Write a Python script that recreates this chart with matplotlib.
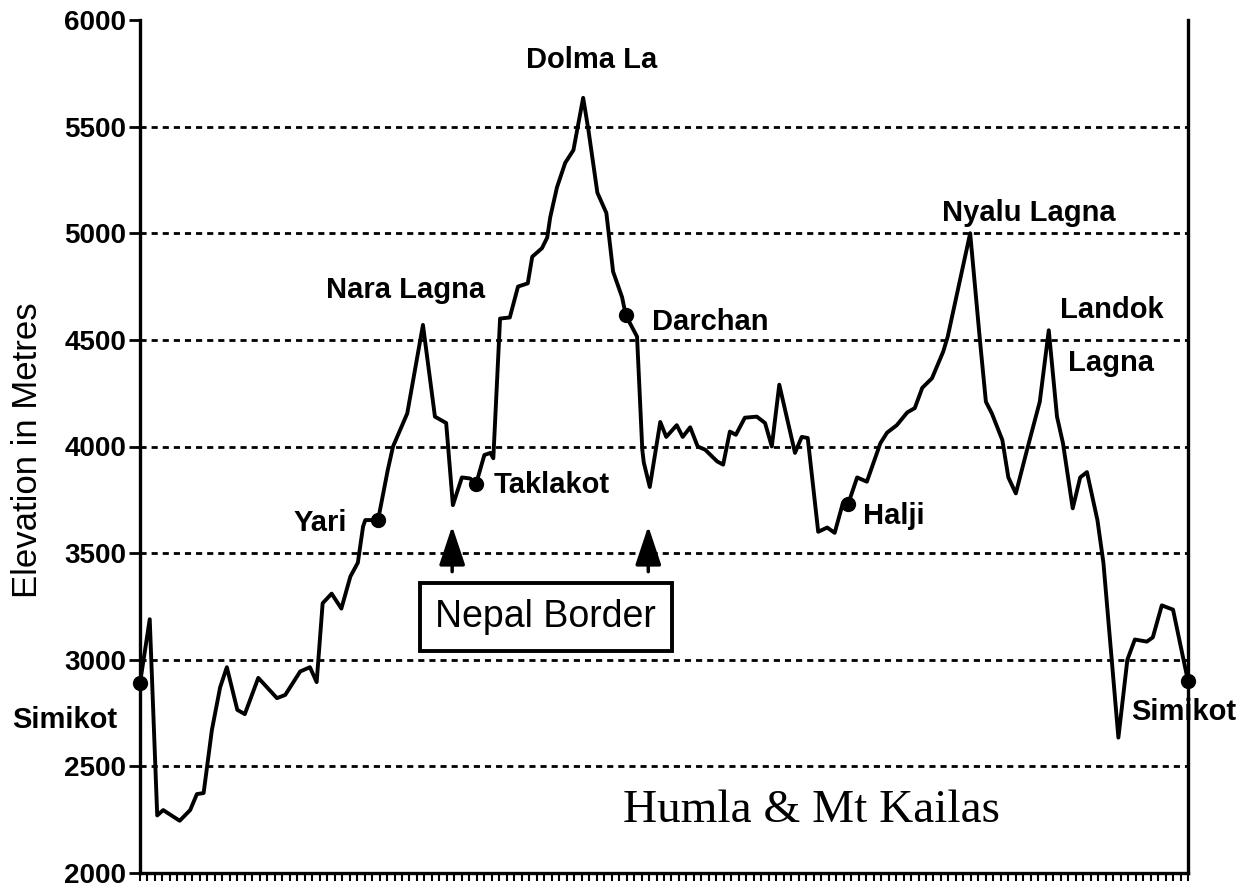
import matplotlib
matplotlib.use('Agg')
import matplotlib.pyplot as plt
import numpy as np

# distance along the trek (arbitrary units) and elevation in metres
dist = [0.0, 1.3, 2.3, 3.1, 5.3, 6.7, 7.6, 8.5, 9.6, 10.7, 11.6, 13.0, 14.0, 15.8,
        18.3, 19.4, 21.4, 22.7, 23.6, 24.4, 25.6, 26.9, 28.1, 29.1, 29.8, 30.1,
        31.8, 33.1, 33.8, 35.7, 37.8, 39.4, 40.9, 41.8, 43.0, 44.1, 44.9, 46.0,
        46.8, 47.2, 48.1, 49.4, 50.5, 51.8, 52.4, 53.7, 54.4, 54.8, 55.7, 56.8,
        57.9, 59.2, 59.9, 61.1, 62.3, 63.2, 64.4, 64.9, 66.4, 67.1, 67.3, 68.1,
        69.5, 70.3, 71.7, 72.5, 73.5, 74.5, 75.5, 77.1, 77.9, 78.8, 79.6, 80.8,
        82.4, 83.5, 84.4, 85.4, 87.5, 88.4, 89.2, 90.6, 91.8, 92.8, 93.9, 94.6,
        95.8, 97.1, 98.9, 99.8, 101.1, 102.5, 103.5, 104.5, 105.8, 107.3, 107.9,
        110.9, 112.2, 113.0, 113.8, 115.2, 116.0, 117.0, 118.5, 120.2, 121.4,
        122.5, 123.3, 124.6, 125.6, 126.5, 127.9, 128.7, 130.7, 131.9, 132.9,
        134.5, 135.3, 136.5, 138.0, 140.0]
elev = [2890, 3190, 2270, 2295, 2245, 2295, 2370, 2375, 2670, 2870, 2965, 2765, 2745, 2915,
        2820, 2835, 2945, 2965, 2895, 3265, 3310, 3240, 3390, 3455, 3625, 3655,
        3655, 3890, 4000, 4155, 4570, 4140, 4110, 3725, 3855, 3850, 3825, 3960,
        3970, 3945, 4600, 4605, 4750, 4765, 4890, 4930, 4980, 5075, 5215, 5330,
        5390, 5635, 5485, 5190, 5095, 4820, 4700, 4615, 4515, 3985, 3925, 3810,
        4115, 4045, 4100, 4045, 4090, 4000, 3985, 3930, 3915, 4070, 4055, 4135,
        4140, 4110, 4000, 4290, 3970, 4045, 4040, 3600, 3620, 3595, 3735, 3730,
        3855, 3835, 4015, 4065, 4100, 4160, 4180, 4275, 4320, 4445, 4515,
        5000, 4500, 4210, 4155, 4030, 3855, 3780, 3985, 4210, 4545,
        4140, 4015, 3710, 3855, 3880, 3655, 3455, 2635, 3000, 3095,
        3085, 3105, 3255, 3235, 2900]

# marked places (dots)
stops = ['Simikot', 'Yari', 'Taklakot', 'Darchan', 'Halji', 'Simikot']
stop_dist = [0.0, 31.8, 44.9, 64.9, 94.6, 140.0]
stop_elev = [2890, 3655, 3825, 4615, 3730, 2900]

# text labels: (text, x, y, horizontal alignment)
labels = [('Simikot', -10.0, 2718, 'center'),
          ('Yari', 27.7, 3641, 'right'),
          ('Nara Lagna', 35.5, 4734, 'center'),
          ('Taklakot', 47.3, 3820, 'left'),
          ('Dolma La', 60.3, 5813, 'center'),
          ('Darchan', 68.4, 4584, 'left'),
          ('Halji', 96.6, 3674, 'left'),
          ('Nyalu Lagna', 118.8, 5095, 'center'),
          ('Landok', 122.9, 4640, 'left'),
          ('Lagna', 124.0, 4392, 'left'),
          ('Simikot', 132.4, 2755, 'left')]

border_x = [41.7, 67.9]

fig = plt.figure(figsize=(12.54, 8.91), dpi=100)
ax = fig.add_axes([140 / 1254, 1 - 873 / 891, 1048 / 1254, 853 / 891])

for y in range(2500, 6000, 500):
    ax.axhline(y, color='black', lw=2, ls=(0, (2.2, 1.8)), zorder=1)

ax.plot(dist, elev, color='black', lw=2.8, zorder=3)
ax.plot(stop_dist, stop_elev, 'o', color='black', ms=10, zorder=4, clip_on=False)

lab_font = dict(family='Liberation Sans', fontsize=21, fontweight='bold', color='black')
for txt, x, y, ha in labels:
    ax.text(x, y, txt, ha=ha, va='center', clip_on=False, **lab_font)

ax.text(54.2, 3200, 'Nepal Border', ha='center', va='center', family='Liberation Sans',
        fontsize=27, bbox=dict(boxstyle='square,pad=0.42', fc='white', ec='black', lw=2.8))

for bx in border_x:
    ax.annotate('', xy=(bx, 3640), xytext=(bx, 3400),
                arrowprops=dict(arrowstyle='-|>,head_length=1.2,head_width=0.4',
                                mutation_scale=20, lw=2.5, color='black'))

ax.text(64.5, 2290, 'Humla & Mt Kailas', ha='left', va='center',
        family='Liberation Serif', fontsize=34)

ax.set_xlim(0, 140)
ax.set_ylim(2000, 6000)
ax.set_xticks(np.arange(0, 141, 1))
ax.set_xticklabels([])
ax.set_yticks(range(2000, 6001, 500))
ax.tick_params(axis='x', direction='out', length=6, width=1.5)
ax.tick_params(axis='y', direction='out', length=8, width=2, pad=2)
for lbl in ax.get_yticklabels():
    lbl.set_family('Liberation Sans')
    lbl.set_fontsize(20)
    lbl.set_fontweight('bold')

ax.spines['top'].set_visible(False)
for s in ['left', 'bottom', 'right']:
    ax.spines[s].set_linewidth(2.4)

fig.text(28 / 1254, 1 - 450 / 891, 'Elevation in Metres', rotation=90,
         ha='center', va='center', family='Liberation Sans', fontsize=25)

fig.savefig('out.png', dpi=100)
